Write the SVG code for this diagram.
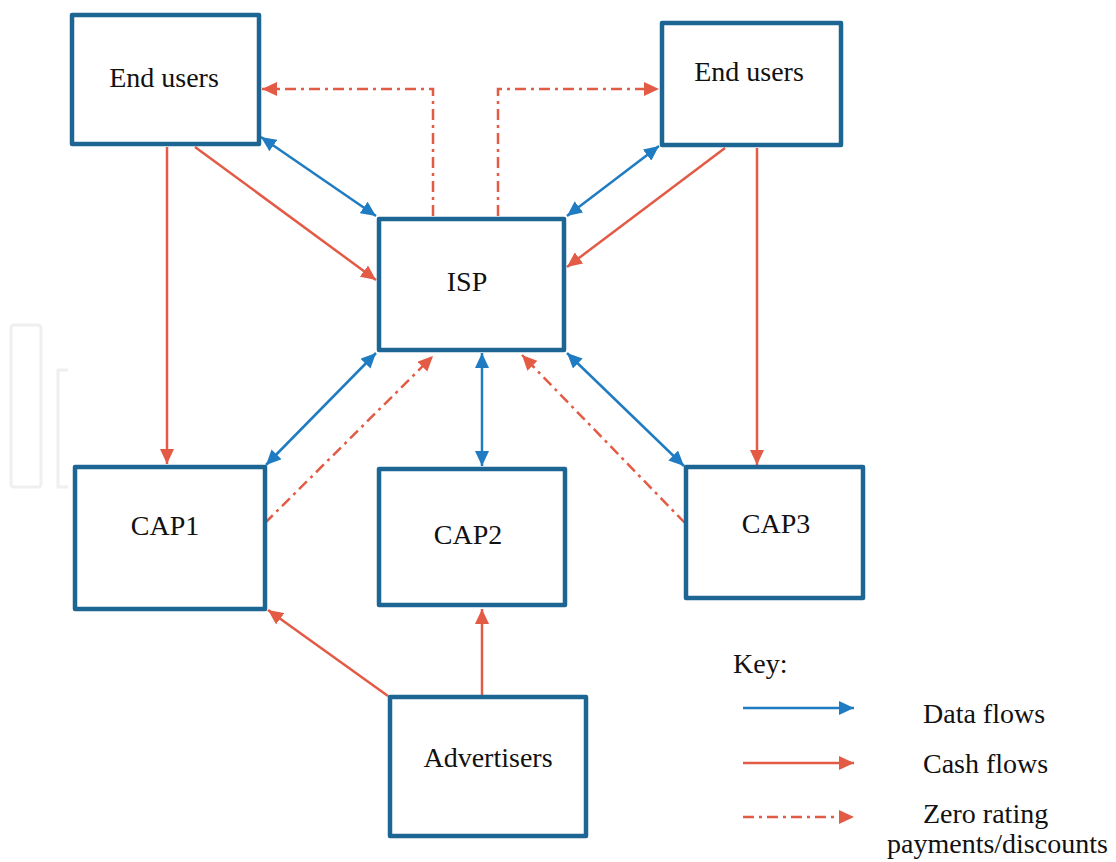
<svg xmlns="http://www.w3.org/2000/svg" width="1116" height="862" viewBox="0 0 1116 862">
  <defs>
    <style>
      .box { fill: #ffffff; stroke: #1d6592; stroke-width: 4.5; stroke-linejoin: round; }
      .lbl { font-family: "Liberation Serif", "Times New Roman", serif; font-size: 28px; fill: #111111; }
      .blue { stroke: #1f7cc2; stroke-width: 2.5; fill: none; }
      .red { stroke: #e35a45; stroke-width: 2.5; fill: none; }
      .dash { stroke: #e35a45; stroke-width: 2.5; fill: none; stroke-dasharray: 11 5 3 5; }
      .wm { fill: none; stroke: #efefef; stroke-width: 3; }
    </style>
    <marker id="ab" markerUnits="userSpaceOnUse" markerWidth="16" markerHeight="14" refX="15" refY="7" orient="auto-start-reverse">
      <path d="M0,0 L15,7 L0,14 Z" fill="#1f7cc2"/>
    </marker>
    <marker id="ar" markerUnits="userSpaceOnUse" markerWidth="16" markerHeight="14" refX="15" refY="7" orient="auto-start-reverse">
      <path d="M0,0 L15,7 L0,14 Z" fill="#e35a45"/>
    </marker>
  </defs>
  <rect x="0" y="0" width="1116" height="862" fill="#ffffff"/>

  <g id="watermark">
    <rect class="wm" x="11" y="325" width="30" height="162" rx="3"/>
    <path class="wm" d="M68,370 H58 V487 H68"/>
  </g>

  <g id="connectors">
    <line class="blue" x1="261" y1="137" x2="376" y2="216" marker-start="url(#ab)" marker-end="url(#ab)"/>
    <line class="blue" x1="659" y1="146" x2="567" y2="216" marker-start="url(#ab)" marker-end="url(#ab)"/>
    <line class="blue" x1="376" y1="353" x2="266" y2="465" marker-start="url(#ab)" marker-end="url(#ab)"/>
    <line class="blue" x1="482" y1="353" x2="482" y2="466" marker-start="url(#ab)" marker-end="url(#ab)"/>
    <line class="blue" x1="567" y1="353" x2="684" y2="466" marker-start="url(#ab)" marker-end="url(#ab)"/>

    <line class="red" x1="167" y1="147" x2="167" y2="464" marker-end="url(#ar)"/>
    <line class="red" x1="195" y1="147" x2="376" y2="280" marker-end="url(#ar)"/>
    <line class="red" x1="725" y1="148" x2="567" y2="267" marker-end="url(#ar)"/>
    <line class="red" x1="757" y1="148" x2="757" y2="465" marker-end="url(#ar)"/>
    <line class="red" x1="388" y1="696" x2="268" y2="610" marker-end="url(#ar)"/>
    <line class="red" x1="482" y1="695" x2="482" y2="609" marker-end="url(#ar)"/>

    <path class="dash" d="M433,216 V89 H262" marker-end="url(#ar)"/>
    <path class="dash" d="M498,216 V89 H659" marker-end="url(#ar)"/>
    <line class="dash" x1="265" y1="523" x2="433" y2="356" marker-end="url(#ar)"/>
    <line class="dash" x1="685" y1="523" x2="522" y2="355" marker-end="url(#ar)"/>
  </g>

  <g id="endusers-left">
    <rect class="box" x="72" y="15" width="187" height="129"/>
    <text class="lbl" x="164" y="87" text-anchor="middle">End users</text>
  </g>
  <g id="endusers-right">
    <rect class="box" x="662" y="23" width="179" height="122"/>
    <text class="lbl" x="749" y="81" text-anchor="middle">End users</text>
  </g>
  <g id="isp">
    <rect class="box" x="379" y="219" width="185" height="131"/>
    <text class="lbl" x="467" y="291" text-anchor="middle">ISP</text>
  </g>
  <g id="cap1">
    <rect class="box" x="75" y="467" width="190" height="142"/>
    <text class="lbl" x="165" y="535" text-anchor="middle">CAP1</text>
  </g>
  <g id="cap2">
    <rect class="box" x="379" y="469" width="186" height="136"/>
    <text class="lbl" x="468" y="544" text-anchor="middle">CAP2</text>
  </g>
  <g id="cap3">
    <rect class="box" x="686" y="467" width="177" height="131"/>
    <text class="lbl" x="776" y="533" text-anchor="middle">CAP3</text>
  </g>
  <g id="advertisers">
    <rect class="box" x="390" y="697" width="196" height="139"/>
    <text class="lbl" x="488" y="767" text-anchor="middle">Advertisers</text>
  </g>

  <g id="legend">
    <text class="lbl" x="733" y="673">Key:</text>
    <line class="blue" x1="743" y1="708" x2="854" y2="708" marker-end="url(#ab)"/>
    <line class="red" x1="743" y1="763" x2="854" y2="763" marker-end="url(#ar)"/>
    <line class="dash" x1="743" y1="817" x2="854" y2="817" marker-end="url(#ar)"/>
    <text class="lbl" x="923" y="723">Data flows</text>
    <text class="lbl" x="923" y="773">Cash flows</text>
    <text class="lbl" x="923" y="823">Zero rating</text>
    <text class="lbl" x="887" y="853">payments/discounts</text>
  </g>
</svg>
